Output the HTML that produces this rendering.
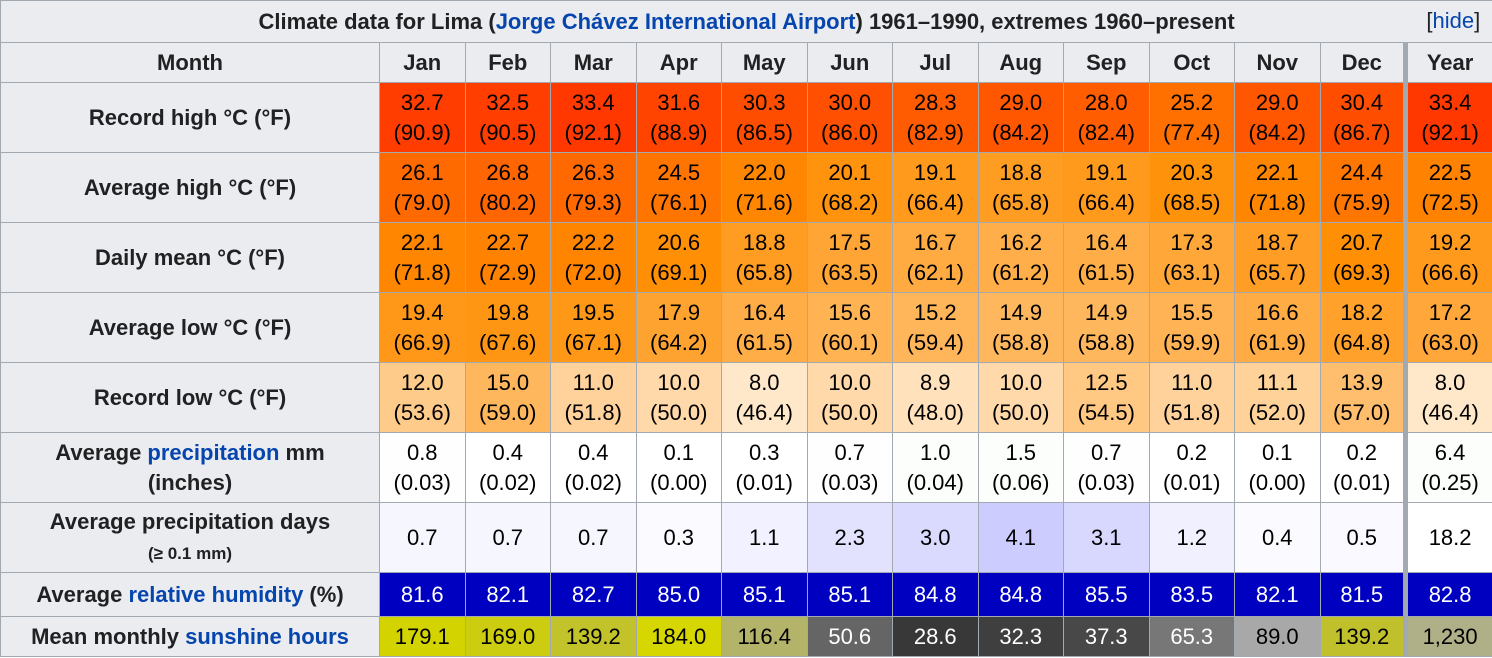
<!DOCTYPE html>
<html><head><meta charset="utf-8">
<style>
html,body{margin:0;padding:0;background:#fff;}
body{width:1492px;height:658px;overflow:hidden;font-family:"Liberation Sans",Arial,sans-serif;color:#202122;}
table{border-collapse:collapse;table-layout:fixed;width:1492px;font-size:22px;}
td,th{border:1px solid #a2a9b1;text-align:center;padding:0;line-height:30px;color:#000;}
th{background:#eaecf0;color:#202122;font-weight:bold;}
.title{height:40px;position:relative;}
.hide{position:absolute;right:12px;top:5px;font-weight:normal;color:#202122;}
a{color:#0645ad;text-decoration:none;}
.yr{border-left:5px solid #a2a9b1;}
.small{font-size:17px;}
</style></head>
<body>
<table id="t">
<colgroup><col style="width:379px"><col span="12" style="width:85.5px"><col style="width:87px"></colgroup>
<tr style="height:42px"><th colspan="14" class="title">Climate data for Lima (<a href="#">Jorge Chávez International Airport</a>) 1961–1990, extremes 1960–present<span class="hide">[<a href="#">hide</a>]</span></th></tr>
<tr style="height:40px" id="hdr"><th>Month</th></tr>
</table>
<script>
const months=["Jan","Feb","Mar","Apr","May","Jun","Jul","Aug","Sep","Oct","Nov","Dec","Year"];
const recordHigh=[32.7,32.5,33.4,31.6,30.3,30.0,28.3,29.0,28.0,25.2,29.0,30.4,33.4];
const avgHigh=[26.1,26.8,26.3,24.5,22.0,20.1,19.1,18.8,19.1,20.3,22.1,24.4,22.5];
const dailyMean=[22.1,22.7,22.2,20.6,18.8,17.5,16.7,16.2,16.4,17.3,18.7,20.7,19.2];
const avgLow=[19.4,19.8,19.5,17.9,16.4,15.6,15.2,14.9,14.9,15.5,16.6,18.2,17.2];
const recordLow=[12.0,15.0,11.0,10.0,8.0,10.0,8.9,10.0,12.5,11.0,11.1,13.9,8.0];
const precipMm=[0.8,0.4,0.4,0.1,0.3,0.7,1.0,1.5,0.7,0.2,0.1,0.2,6.4];
const precipIn=["0.03","0.02","0.02","0.00","0.01","0.03","0.04","0.06","0.03","0.01","0.00","0.01","0.25"];
const precipDays=[0.7,0.7,0.7,0.3,1.1,2.3,3.0,4.1,3.1,1.2,0.4,0.5,18.2];
const humidity=[81.6,82.1,82.7,85.0,85.1,85.1,84.8,84.8,85.5,83.5,82.1,81.5,82.8];
const sunshine=[179.1,169.0,139.2,184.0,116.4,50.6,28.6,32.3,37.3,65.3,89.0,139.2,1230];
const sunColors=["#d3d300","#cccc10","#c2c22a","#d6d600","#b3b36a","#656565","#383838","#3f3f3f","#484848","#777777","#a8a8a8","#c0c02c","#b0b088"];

const t=document.getElementById('t');
const hdr=document.getElementById('hdr');
months.forEach((m,i)=>{
  const th=document.createElement('th');
  th.textContent=m;
  
  
  if(i===12) th.className='yr';
  hdr.appendChild(th);
});
function tempColor(v){
  const g=Math.max(0,Math.min(255,Math.round(255*(41.5-v)/37)));
  const b=Math.max(0,Math.min(255,Math.round(255*(21-v)/16.5)));
  return 'rgb(255,'+g+','+b+')';
}
function fmt(v){return v.toFixed(1);}
function addRow(labelHtml,name,h,vals,cellFn){
  const tr=document.createElement('tr');
  tr.style.height=h+'px';
  
  
  const th=document.createElement('th');
  th.innerHTML=labelHtml;
  
  
  tr.appendChild(th);
  vals.forEach((v,i)=>{
    const td=document.createElement('td');
    
    
    if(i===12) td.className='yr';
    cellFn(td,v,i);
    tr.appendChild(td);
  });
  t.appendChild(tr);
}
function tempCell(td,v){
  td.style.background=tempColor(v);
  td.innerHTML=fmt(v)+'<br>('+(v*9/5+32).toFixed(1)+')';
}
addRow('Record high °C (°F)','record-high',70,recordHigh,tempCell);
addRow('Average high °C (°F)','average-high',70,avgHigh,tempCell);
addRow('Daily mean °C (°F)','daily-mean',70,dailyMean,tempCell);
addRow('Average low °C (°F)','average-low',70,avgLow,tempCell);
addRow('Record low °C (°F)','record-low',70,recordLow,tempCell);
addRow('Average <a href="#">precipitation</a> mm<br>(inches)','precipitation',70,precipMm,(td,v,i)=>{
  const k=Math.min(v,1.5);
  td.style.background='rgb('+Math.round(255-k*3)+','+Math.round(255-k*1)+','+Math.round(255-k*3)+')';
  td.innerHTML=fmt(v)+'<br>('+precipIn[i]+')';
});
addRow('Average precipitation days<br><span class="small">(≥ 0.1 mm)</span>','precipitation-days',70,precipDays,(td,v,i)=>{
  const k=Math.min(v,4.5);
  const c=Math.round(255-k*12.5);
  td.style.background=i===12?'#ffffff':'rgb('+c+','+c+',255)';
  td.textContent=fmt(v);
});
addRow('Average <a href="#">relative humidity</a> (%)','humidity',44,humidity,(td,v)=>{
  td.style.background='#0000c0';
  td.style.color='#fff';
  td.textContent=fmt(v);
});
addRow('Mean monthly <a href="#">sunshine hours</a>','sunshine',40,sunshine,(td,v,i)=>{
  td.style.background=sunColors[i];
  td.style.color=(i<12 && v<80)?'#fff':'#000';
  td.textContent=i===12?v.toLocaleString('en-US'):fmt(v);
});
</script>
</body></html>
